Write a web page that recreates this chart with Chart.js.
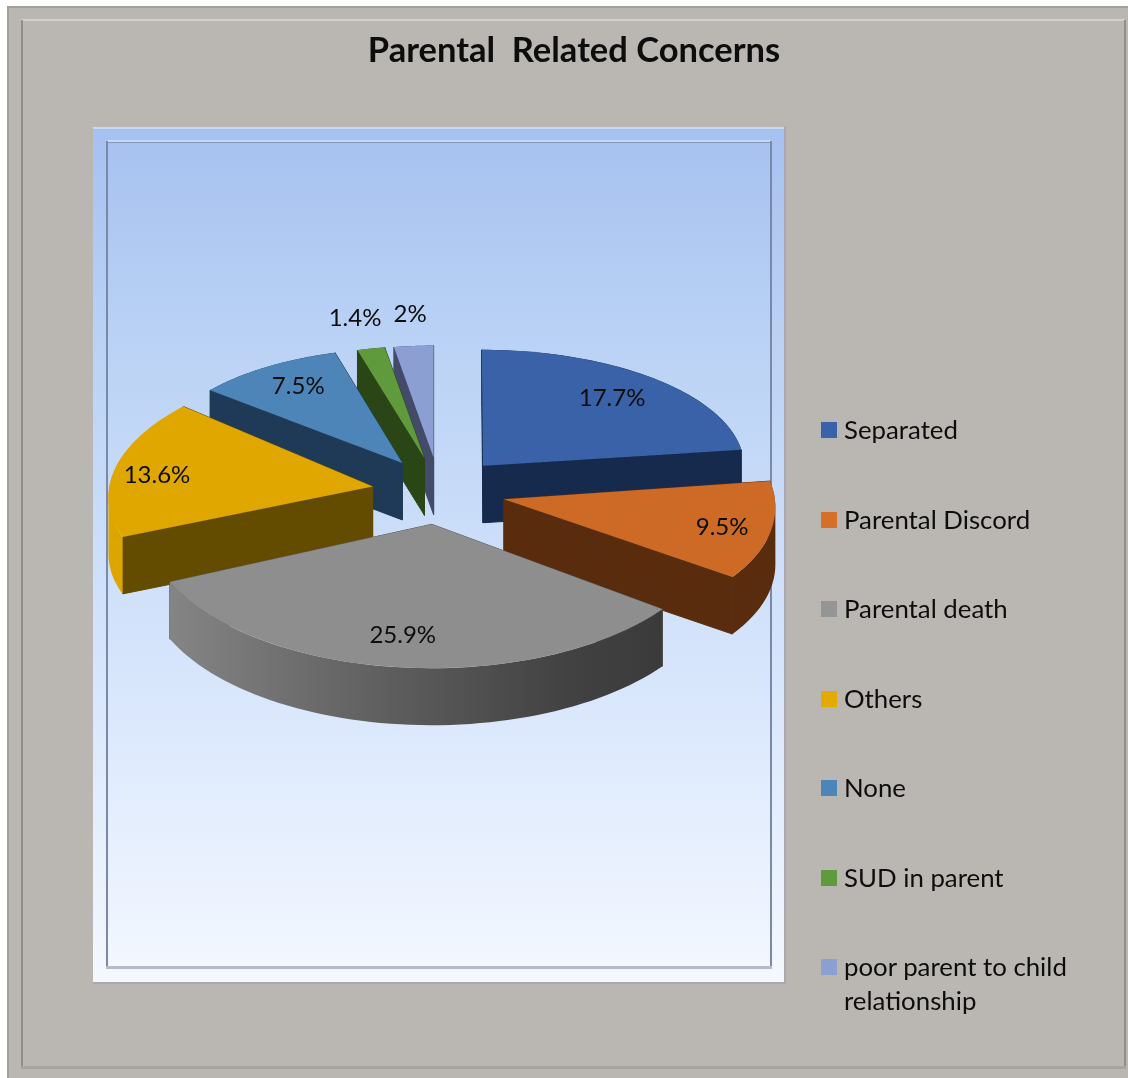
<!DOCTYPE html>
<html lang="en">
<head>
    <meta charset="UTF-8">
    <title>Parental Related Concerns</title>
    <script src="https://cdn.jsdelivr.net/npm/chart.js"></script>
    <style>
        body { margin: 0; background: #fff; }
        #wrap { position: relative; width: 1128px; height: 1078px; overflow: hidden; }
        canvas { display: block; }
        #legend { position: absolute; left: 821px; top: 385px; margin: 0; padding: 0; list-style: none;
                  font: 25.8px/34px Lato, sans-serif; color: #0d0d0d; }
        #legend li { position: relative; height: 89.5px; padding: 27px 0 0 23px; box-sizing: border-box; width: 270px; }
        #legend i { position: absolute; left: 0; top: 37px; width: 16px; height: 16px; }
    </style>
</head>
<body>
<div id="wrap">
    <canvas id="pieChart" width="1128" height="1078"></canvas>
    <ul id="legend"></ul>
</div>
<script>
    const categories = ["Separated", "Parental Discord", "Parental death", "Others", "None", "SUD in parent", "poor parent to child relationship"];
    const values = [17.7, 9.5, 25.9, 13.6, 7.5, 1.4, 2];
    const valueLabels = ["17.7%", "9.5%", "25.9%", "13.6%", "7.5%", "1.4%", "2%"];

    const topColors = ["#3a62a8", "#cd6b26", "#8e8e8e", "#dfa700", "#4e85b8", "#5f9a3c", "#8c9fd2"];
    const faceColors = ["#152a4d", "#592c0d", "#5a5a5a", "#634b00", "#1f3a57", "#2a4516", "#444a6a"];
    const rimColors = ["#152a4d", "#592c0d", null, "#dca500", "#1f3a57", "#2a4516", "#444a6a"];
    const legendColors = ["#3a62a8", "#d56f2a", "#959595", "#e3aa00", "#4e85b8", "#5f9a3c", "#8c9fd2"];

    // how the flat pie is laid onto the tilted plane
    const view = { cx: 439, cy: 491, rx: 266, ry: 128, rxNear: 20, ryNear: 16, skew: 30, explode: 67, depth: 57 };
    // the blue slice opens a little wider than the plane alone gives
    const sliceWiden = [10, 0, 0, 0, 0, 0, 0];
    const labelNudge = [[-8, 2], [8, 2], [-4, -3], [-7, 3], [5, 0], [-1, 0], [2, 0]];

    function sliceFrame(arc, i) {
        const mid = (arc.startAngle + arc.endAngle) / 2;
        const dirX = Math.cos(mid), dirY = Math.sin(mid);
        const side = 1 - Math.abs(dirY);
        return {
            dirX, dirY,
            x: view.cx + view.explode * dirX,
            y: view.cy + view.explode * 0.5 * dirY,
            rx: view.rx + view.rxNear * dirY + sliceWiden[i],
            ry: view.ry + view.ryNear * dirY,
            // the side slices lean with the perspective of the plane
            skew: view.skew * dirX * side * side
        };
    }

    // adds one strip of a wall to the current path, always wound left to right
    // so strips of the same wall never cancel each other when filled together
    function wallStrip(ctx, p, q) {
        const a = p[0] <= q[0] ? p : q;
        const b = p[0] <= q[0] ? q : p;
        ctx.moveTo(a[0], a[1]);
        ctx.lineTo(b[0], b[1]);
        ctx.lineTo(b[0], b[1] + view.depth);
        ctx.lineTo(a[0], a[1] + view.depth);
        ctx.closePath();
    }

    const scenery = {
        id: "scenery",
        beforeDraw(chart) {
            const ctx = chart.ctx;
            ctx.save();
            // grey card
            ctx.fillStyle = "#bab6b2";
            ctx.fillRect(7, 6, 1121, 1072);
            ctx.fillStyle = "#a3a09c";
            ctx.fillRect(7, 6, 1121, 2);
            ctx.fillRect(7, 6, 2, 1072);
            ctx.fillStyle = "#d2cfcb";
            ctx.fillRect(21, 19, 1104, 2);
            ctx.fillStyle = "#918e8a";
            ctx.fillRect(21, 20, 2, 1048);
            ctx.fillRect(1124, 20, 2, 1048);
            ctx.fillStyle = "#a7a4a0";
            ctx.fillRect(21, 1066, 1105, 3);

            // plot panel
            const bg = ctx.createLinearGradient(0, 127, 0, 982);
            bg.addColorStop(0, "#a6c1f0");
            bg.addColorStop(0.25, "#bad2f5");
            bg.addColorStop(0.65, "#d8e6fc");
            bg.addColorStop(1, "#f4f8ff");
            ctx.fillStyle = bg;
            ctx.fillRect(93, 127, 691, 855);
            ctx.fillStyle = "#c6d9f7";
            ctx.fillRect(93, 127, 691, 2);
            ctx.fillStyle = "#a9a8ae";
            ctx.fillRect(93, 982, 691, 2);
            ctx.fillRect(784, 127, 2, 857);

            ctx.fillStyle = "#c6d9f7";
            ctx.fillRect(107, 140, 664, 2);
            ctx.fillStyle = "#8199bd";
            ctx.fillRect(107, 142, 664, 1);
            ctx.fillStyle = "#7a8aa6";
            ctx.fillRect(106, 141, 2, 827);
            ctx.fillRect(770, 141, 2, 827);
            ctx.fillStyle = "#b4bac6";
            ctx.fillRect(106, 966, 666, 3);
            ctx.restore();
        },
        // the library skips its flat pass; each arc is drawn here on the tilted plane
        beforeDatasetDraw(chart) {
            const ctx = chart.ctx;
            const arcs = chart.getDatasetMeta(0).data;
            const order = arcs.map((arc, i) => i).sort((a, b) =>
                sliceFrame(arcs[a], a).dirY - sliceFrame(arcs[b], b).dirY);

            order.forEach(i => {
                const arc = arcs[i];
                const f = sliceFrame(arc, i);
                const R = arc.outerRadius;

                const steps = 60;
                const edge = [];
                for (let s = 0; s <= steps; s++) {
                    const a = arc.startAngle + (arc.endAngle - arc.startAngle) * s / steps;
                    edge.push([f.x + f.rx * Math.cos(a) + f.skew * Math.sin(a), f.y + f.ry * Math.sin(a)]);
                }

                // the two cut faces running in from the rim to the point
                ctx.fillStyle = faceColors[i];
                ctx.strokeStyle = faceColors[i];
                ctx.lineWidth = 1;
                ctx.beginPath();
                wallStrip(ctx, [f.x, f.y], edge[0]);
                wallStrip(ctx, [f.x, f.y], edge[steps]);
                ctx.fill();
                ctx.stroke();

                // outer rim
                let rim = rimColors[i];
                if (!rim) {
                    rim = ctx.createLinearGradient(f.x - f.rx * 0.92, 0, f.x + f.rx * 0.82, 0);
                    rim.addColorStop(0, "#858585");
                    rim.addColorStop(0.3, "#6a6a6a");
                    rim.addColorStop(0.55, "#555555");
                    rim.addColorStop(0.8, "#424242");
                    rim.addColorStop(1, "#3a3a3a");
                }
                ctx.fillStyle = rim;
                ctx.beginPath();
                for (let s = 0; s < steps; s++) {
                    wallStrip(ctx, edge[s], edge[s + 1]);
                }
                ctx.fill();

                ctx.save();
                ctx.transform(f.rx / R, 0, f.skew / R, f.ry / R, f.x, f.y);
                ctx.translate(-arc.x, -arc.y);
                arc.draw(ctx);
                ctx.restore();
            });
            return false;
        },
        afterDatasetsDraw(chart) {
            const ctx = chart.ctx;
            const arcs = chart.getDatasetMeta(0).data;
            ctx.save();
            ctx.font = "24px Lato, sans-serif";
            ctx.fillStyle = "#0d0d0d";
            ctx.textAlign = "center";
            ctx.textBaseline = "middle";
            arcs.forEach((arc, i) => {
                const f = sliceFrame(arc, i);
                // thin slices carry their label outside the rim
                const reach = values[i] < 5 ? 1.28 : 0.8;
                ctx.fillText(valueLabels[i],
                    f.x + f.rx * reach * f.dirX + labelNudge[i][0],
                    f.y + f.ry * reach * f.dirY + labelNudge[i][1]);
            });
            ctx.restore();
        }
    };

    new Chart(document.getElementById("pieChart"), {
        type: "pie",
        data: {
            labels: categories,
            datasets: [{
                data: values,
                backgroundColor: topColors,
                borderWidth: 0
            }]
        },
        options: {
            responsive: false,
            animation: false,
            layout: { padding: { left: 20 } },
            plugins: {
                legend: { display: false },
                tooltip: { enabled: false },
                title: {
                    display: true,
                    text: "Parental  Related Concerns",
                    color: "#0d0d0d",
                    font: { family: "Lato, sans-serif", size: 34.5, weight: "bold" },
                    padding: { top: 30, bottom: 20 }
                }
            }
        },
        plugins: [scenery]
    });

    const legend = document.getElementById("legend");
    categories.forEach((name, i) => {
        const li = document.createElement("li");
        const box = document.createElement("i");
        box.style.background = legendColors[i];
        li.appendChild(box);
        li.appendChild(document.createTextNode(name));
        legend.appendChild(li);
    });
</script>
</body>
</html>
